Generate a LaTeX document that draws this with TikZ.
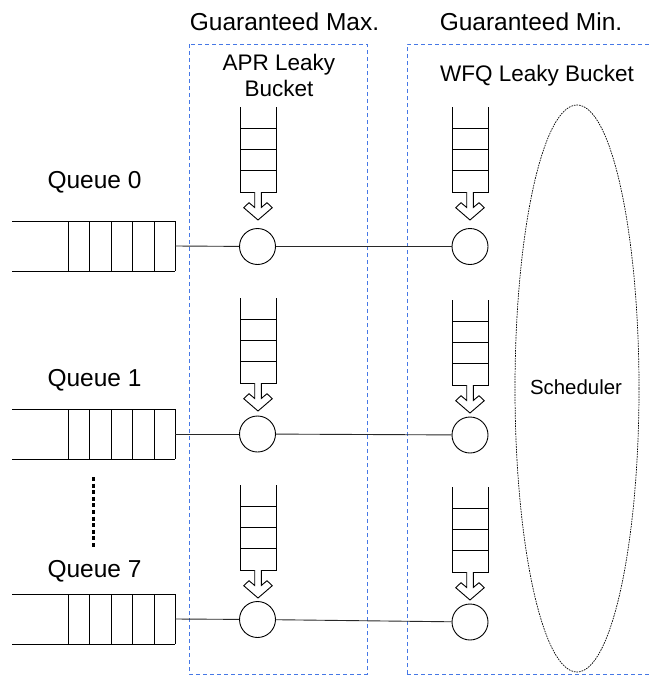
\documentclass[tikz,border=0pt]{standalone}
\usepackage{fontspec}
\setmainfont{Liberation Sans}
\usetikzlibrary{shapes.geometric}
\definecolor{boxblue}{RGB}{70,120,230}
\definecolor{linegray}{RGB}{40,40,40}
\begin{document}
\begin{tikzpicture}[x=1pt,y=-1pt,
  big/.style={font=\fontsize{24.5}{28}\selectfont, anchor=base, inner sep=0pt},
  mid/.style={font=\fontsize{22.5}{26}\selectfont, anchor=base, inner sep=0pt},
  small/.style={font=\fontsize{20.4}{24}\selectfont, anchor=base, inner sep=0pt},
  circ/.style={circle, draw=black, line width=0.9pt, fill=white, minimum size=36pt, inner sep=0pt},
  conn/.style={draw=linegray, line width=0.9pt},
  groupbox/.style={draw=boxblue, line width=0.9pt, dash pattern=on 4pt off 3pt},
  bucket/.pic={
    \draw[line width=0.9pt] (-18,-85) -- (-18,0) -- (18,0) -- (18,-85);
    \draw[line width=0.9pt] (-18,-21.3) -- (18,-21.3) (-18,-42.6) -- (18,-42.6) (-18,-63.9) -- (18,-63.9);
    \draw[line width=0.9pt, fill=white] (-3.3,0) -- (-3.3,15.5) -- (-9,10.7) -- (-14.3,15.7) -- (0,28)
      -- (14.3,15.7) -- (9,10.7) -- (3.3,15.5) -- (3.3,0);
  },
  queuebuf/.pic={
    \draw[line width=0.9pt] (-163,-25) -- (0,-25) (-163,25) -- (0,25);
    \foreach \xx in {-107,-85.5,-64,-42.5,-21,0} \draw[line width=0.9pt] (\xx,-25) -- (\xx,25);
  }]
\useasboundingbox (0,0) rectangle (651,675);

% group boxes
\draw[groupbox] (189,44) rectangle (367,674);
\draw[groupbox] (407,674) -- (407,44) -- (655,44);
\draw[groupbox] (407,674) -- (655,674);

% headings
\node[big] (hmax) at (284.5,30) {Guaranteed Max.};
\node[big] (hmin) at (531,30) {Guaranteed Min.};
\node[mid] (apr1) at (279,70.7) {APR Leaky};
\node[mid] (apr2) at (279,96.7) {Bucket};
\node[mid] (wfq) at (537,81.7) {WFQ Leaky Bucket};

% scheduler
\node[draw=black, line width=0.7pt, dash pattern=on 1.6pt off 1pt, ellipse, minimum width=124pt, minimum height=567pt, inner sep=0pt] (sched) at (577,388.5) {};
\node[small] (schedlbl) at (576,394) {Scheduler};

% queues
\node[big] (ql0) at (94.5,188) {Queue 0};
\node[big] (ql1) at (94.5,386) {Queue 1};
\node[big] (ql7) at (94.5,577) {Queue 7};
\pic at (175,246) {queuebuf};
\pic at (175,434) {queuebuf};
\pic at (175,619) {queuebuf};
\coordinate (q0) at (175,246);
\coordinate (q1) at (175,434);
\coordinate (q7) at (175,619);

\coordinate (dtop) at (93,477);
\coordinate (dbot) at (93,547);
\draw[line width=3pt, dash pattern=on 4pt off 2.6pt] (dtop) -- (dbot);

% buckets
\pic at (258,192) {bucket};
\pic at (258,383) {bucket};
\pic at (258,570) {bucket};
\pic at (470,192) {bucket};
\pic at (470,385) {bucket};
\pic at (470,572) {bucket};

% circles
\node[circ] (a0) at (257.5,246.5) {};
\node[circ] (a1) at (257.5,434) {};
\node[circ] (a7) at (257.5,619.5) {};
\node[circ] (w0) at (470,246.5) {};
\node[circ] (w1) at (470,435) {};
\node[circ] (w7) at (470,622) {};

% connectors
\draw[conn] (q0) -- (a0);
\draw[conn] (a0) -- (w0);
\draw[conn] (q1) -- (a1);
\draw[conn] (a1) -- (w1);
\draw[conn] (q7) -- (a7);
\draw[conn] (a7) -- (w7);
\end{tikzpicture}
\end{document}
